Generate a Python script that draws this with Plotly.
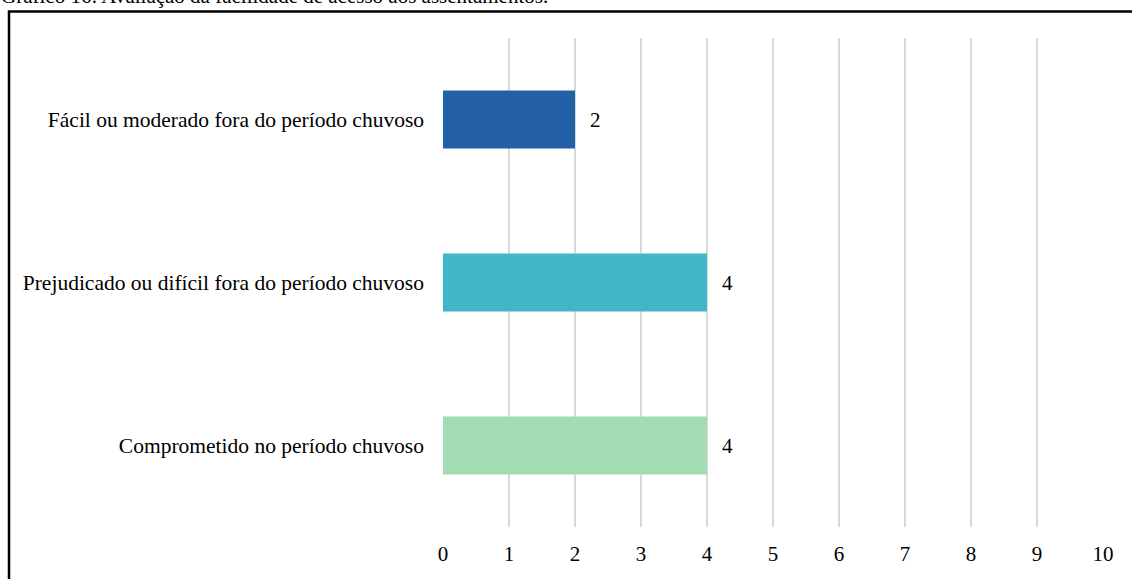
'''
    Horizontal bar chart: access to the settlements.
'''

import plotly.graph_objects as go

# data, in display order (top to bottom)
categories = [
    "Fácil ou moderado fora do período chuvoso",
    "Prejudicado ou difícil fora do período chuvoso",
    "Comprometido no período chuvoso",
]
values = [2, 4, 4]
colors = ["#2360A8", "#40B7C7", "#A2DCB5"]
x_ticks = list(range(0, 11))
title_text = "Gráfico 16: Avaliação da facilidade de acesso aos assentamentos."

FONT = "Liberation Serif, Times New Roman, serif"
W, H = 1132, 579
L, R, T, B = 443, 29, 38, 52
PW, PH = W - L - R, H - T - B


def px_x(p):
    # pixel column -> paper x
    return (p - L) / PW


def px_y(p):
    # pixel row -> paper y
    return 1 - (p - T) / PH


fig = go.Figure(
    go.Bar(
        x=values,
        y=categories,
        orientation="h",
        marker=dict(color=colors, line=dict(width=0)),
        hoverinfo="skip",
    )
)

# value labels to the right of the bars
for cat, val in zip(categories, values):
    fig.add_annotation(
        x=val, y=cat, text=str(val), showarrow=False,
        xanchor="left", xshift=13,
        font=dict(family=FONT, size=21, color="black"),
    )

# title, cut at the top of the picture
fig.add_annotation(
    xref="paper", yref="paper", x=px_x(-1), y=px_y(10),
    xanchor="left", yanchor="bottom", showarrow=False,
    text=title_text, font=dict(family=FONT, size=21, color="black"),
)

# the black frame around the chart
fig.add_shape(
    type="rect", xref="paper", yref="paper",
    x0=px_x(9), x1=px_x(W + 20), y0=px_y(H + 20), y1=px_y(11.5),
    line=dict(color="black", width=2.5), fillcolor="rgba(0,0,0,0)",
)

fig.update_layout(
    width=W, height=H,
    margin=dict(l=L, r=R, t=T, b=B),
    paper_bgcolor="white", plot_bgcolor="white",
    bargap=0.643,
    showlegend=False,
    font=dict(family=FONT, color="black"),
    xaxis=dict(
        range=[0, 10], tickvals=x_ticks, ticks="",
        showgrid=True, gridcolor="#D9D9D9", gridwidth=2,
        zeroline=False, showline=False,
        tickfont=dict(family=FONT, size=21, color="black"),
        ticklabelstandoff=12,
    ),
    yaxis=dict(
        autorange="reversed", ticks="", showgrid=False,
        showline=False, zeroline=False,
        tickfont=dict(family=FONT, size=21.5, color="black"),
        ticklabelstandoff=18,
    ),
)

# drop the page margin so the figure sits at the window corner
fig.write_html(
    "out.html",
    config={"displayModeBar": False},
    post_script="document.body.style.margin='0';",
)
